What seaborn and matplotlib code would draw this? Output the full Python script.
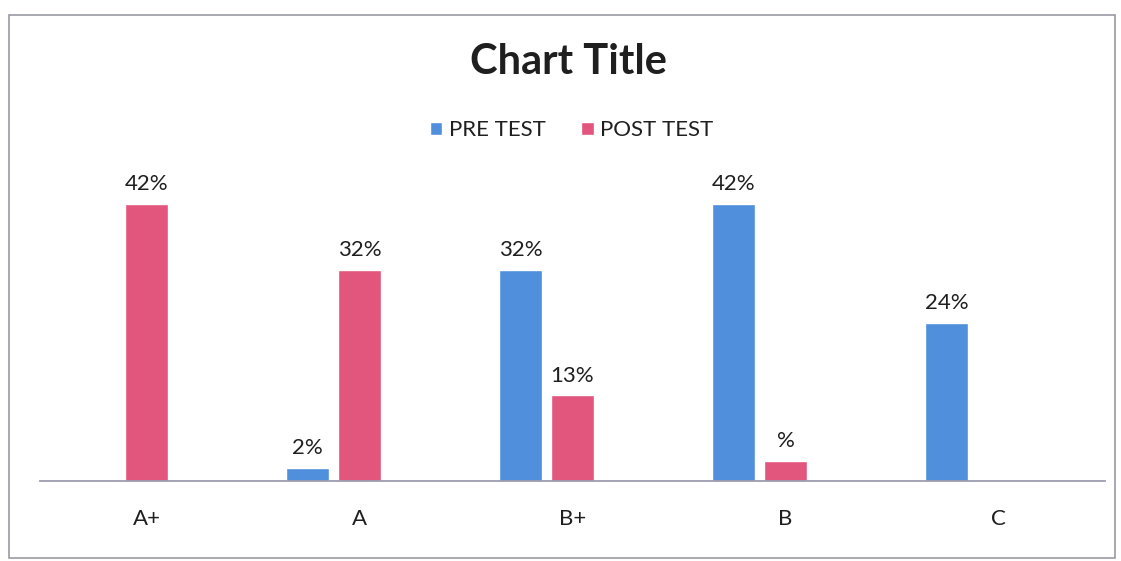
import numpy as np
import pandas as pd
import matplotlib
matplotlib.use("Agg")
import matplotlib.pyplot as plt
import seaborn as sns
from matplotlib.patches import Rectangle

# --- data ---
grades = ["A+", "A", "B+", "B", "C"]
pre_test = [np.nan, 2, 32, 42, 24]
post_test = [42, 32, 13, 3, np.nan]
# Excel kept an empty third series, which shifts the bars left of each tick
blank_series = [np.nan, np.nan, np.nan, np.nan, np.nan]
pre_labels = ["", "2%", "32%", "42%", "24%"]
post_labels = ["42%", "32%", "13%", "%", ""]
series_names = ["PRE TEST", "POST TEST", "BLANK"]

BLUE = "#4F8FDB"
PINK = "#E2557C"
TEXT = "#1f1f1f"

df = pd.DataFrame({
    "grade": grades * 3,
    "series": [series_names[0]] * 5 + [series_names[1]] * 5 + [series_names[2]] * 5,
    "value": pre_test + post_test + blank_series,
})

sns.set_style("white")
plt.rcParams["font.family"] = ["Lato", "DejaVu Sans"]

fig = plt.figure(figsize=(11.21, 5.61), dpi=100)
ax = fig.add_axes([0.0357, 0.1426, 0.95, 0.588])

sns.barplot(data=df, x="grade", y="value", hue="series", hue_order=series_names,
            order=grades, palette=[BLUE, PINK, "white"], width=0.732, gap=0.19,
            saturation=1, ax=ax, legend=True)

# --- data labels ---
for cont, labs, vals in zip(ax.containers[:2], [pre_labels, post_labels], [pre_test, post_test]):
    shown = [l for l, v in zip(labs, vals) if not np.isnan(v)]
    ax.bar_label(cont, labels=shown, padding=7, fontsize=16, color=TEXT)

ax.set_ylim(0, 50)
ax.set_xlim(-0.5, 4.5)
ax.set_xlabel("")
ax.set_ylabel("")
ax.set_yticks([])
ax.tick_params(axis="x", length=0, pad=20, labelsize=16, labelcolor=TEXT)
for side in ["top", "left", "right"]:
    ax.spines[side].set_visible(False)
ax.spines["bottom"].set_color("#9C9CAE")
ax.spines["bottom"].set_linewidth(1.3)

# --- legend: only the two real series ---
handles, labels = ax.get_legend_handles_labels()
ax.legend_.remove()
fig.legend(handles[:2], labels[:2], loc="center", bbox_to_anchor=(0.510, 0.768),
           ncol=2, frameon=False, fontsize=16, handlelength=0.55, handleheight=0.55,
           handletextpad=0.3, columnspacing=1.6, labelcolor=TEXT)

fig.text(0.507, 0.889, "Chart Title", ha="center", va="center",
         fontsize=30, fontweight="bold", color=TEXT)

# scanned frame around the chart area
fig.patches.append(Rectangle((0.008, 0.006), 0.9866, 0.967, transform=fig.transFigure,
                             fill=False, edgecolor="#9a9aa4", linewidth=1.2))

fig.savefig("out.png", dpi=100, facecolor="white")
plt.close(fig)
